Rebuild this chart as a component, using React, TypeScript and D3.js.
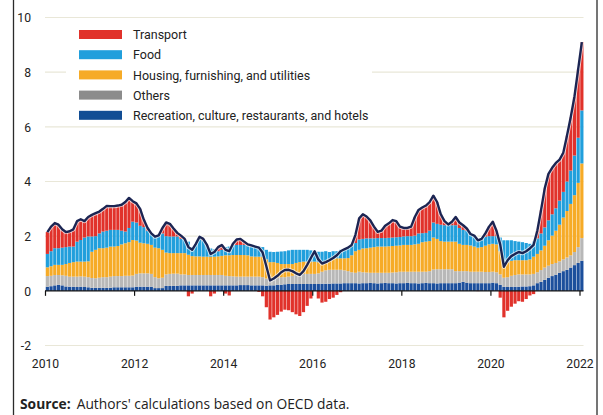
import React from "react";
import * as d3 from "d3";

// ---- data (monthly, Jan 2010 – Jan 2022), percentage-point contributions ----
const startYear = 2010;
const xTickYears = [2010, 2012, 2014, 2016, 2018, 2020, 2022];
const yTicks = [-2, 0, 2, 4, 6, 8, 10];
const yGrid = [-2, 2, 4, 6, 8, 10];

const seriesLabels = [
  "Transport",
  "Food",
  "Housing, furnishing, and utilities",
  "Others",
  "Recreation, culture, restaurants, and hotels",
];

const recreation = [
  0.15, 0.17, 0.2, 0.22, 0.2, 0.16, 0.15, 0.15, 0.14, 0.15, 0.14, 0.13,
  0.11, 0.11, 0.11, 0.11, 0.11, 0.11, 0.13, 0.13, 0.13, 0.13, 0.13, 0.13,
  0.15, 0.15, 0.15, 0.15, 0.15, 0.1, 0.1, 0.1, 0.18, 0.18, 0.18, 0.18,
  0.2, 0.2, 0.2, 0.2, 0.2, 0.2, 0.2, 0.2, 0.2, 0.2, 0.2, 0.2,
  0.2, 0.2, 0.2, 0.2, 0.21, 0.21, 0.21, 0.2, 0.2, 0.2, 0.2, 0.18,
  0.2, 0.2, 0.22, 0.22, 0.24, 0.25, 0.25, 0.25, 0.25, 0.25, 0.25, 0.25,
  0.25, 0.25, 0.26, 0.26, 0.26, 0.27, 0.27, 0.27, 0.28, 0.28, 0.28, 0.28,
  0.27, 0.28, 0.28, 0.29, 0.28, 0.27, 0.28, 0.29, 0.28, 0.28, 0.27, 0.28,
  0.28, 0.29, 0.28, 0.28, 0.27, 0.28, 0.29, 0.28, 0.28, 0.27, 0.28, 0.28,
  0.28, 0.28, 0.28, 0.3, 0.33, 0.3, 0.28, 0.28, 0.28, 0.28, 0.28, 0.28,
  0.3, 0.28, 0.22, 0.15, 0.14, 0.14, 0.15, 0.15, 0.16, 0.16, 0.17, 0.2,
  0.28, 0.33, 0.4, 0.48, 0.54, 0.59, 0.66, 0.72, 0.77, 0.85, 0.94, 1.02,
  1.1,
];

const others = [
  0.39, 0.38, 0.38, 0.36, 0.37, 0.39, 0.37, 0.37, 0.38, 0.38, 0.38, 0.37,
  0.36, 0.35, 0.37, 0.39, 0.39, 0.41, 0.41, 0.41, 0.41, 0.42, 0.42, 0.43,
  0.47, 0.49, 0.49, 0.49, 0.47, 0.4, 0.36, 0.38, 0.42, 0.44, 0.45, 0.45,
  0.4, 0.4, 0.38, 0.38, 0.38, 0.38, 0.38, 0.38, 0.38, 0.38, 0.38, 0.38,
  0.35, 0.34, 0.33, 0.32, 0.31, 0.31, 0.31, 0.32, 0.32, 0.32, 0.3, 0.27,
  0.2, 0.25, 0.26, 0.28, 0.26, 0.27, 0.3, 0.33, 0.35, 0.37, 0.37, 0.37,
  0.37, 0.39, 0.44, 0.49, 0.51, 0.5, 0.5, 0.5, 0.47, 0.44, 0.4, 0.38,
  0.43, 0.4, 0.39, 0.37, 0.38, 0.39, 0.38, 0.37, 0.38, 0.39, 0.41, 0.42,
  0.42, 0.41, 0.42, 0.42, 0.43, 0.42, 0.41, 0.44, 0.5, 0.52, 0.51, 0.51,
  0.51, 0.51, 0.44, 0.42, 0.39, 0.42, 0.42, 0.42, 0.42, 0.42, 0.41, 0.41,
  0.4, 0.4, 0.38, 0.33, 0.36, 0.41, 0.43, 0.45, 0.44, 0.44, 0.43, 0.42,
  0.4, 0.43, 0.45, 0.44, 0.44, 0.43, 0.42, 0.43, 0.45, 0.45, 0.48, 0.58,
  0.83,
];

const housing = [
  0.32, 0.35, 0.37, 0.37, 0.38, 0.43, 0.5, 0.53, 0.55, 0.54, 0.55, 0.58,
  0.96, 1.04, 1.08, 1.06, 1.08, 1.1, 1.08, 1.1, 1.16, 1.19, 1.23, 1.3,
  1.22, 1.12, 1.1, 1.08, 1.06, 1.08, 1.1, 1.02, 0.8, 0.76, 0.75, 0.75,
  0.78, 0.78, 0.74, 0.69, 0.68, 0.68, 0.67, 0.67, 0.67, 0.67, 0.68, 0.7,
  0.75, 0.76, 0.78, 0.79, 0.79, 0.79, 0.78, 0.74, 0.73, 0.73, 0.75, 0.7,
  0.65, 0.6, 0.54, 0.48, 0.48, 0.46, 0.43, 0.44, 0.45, 0.45, 0.45, 0.45,
  0.45, 0.41, 0.31, 0.27, 0.35, 0.4, 0.42, 0.42, 0.44, 0.48, 0.62, 0.79,
  0.8, 0.87, 0.89, 0.92, 0.94, 0.96, 0.96, 0.96, 0.97, 0.97, 0.97, 0.96,
  0.98, 0.98, 0.98, 1.0, 1.02, 1.08, 1.1, 1.1, 1.17, 1.11, 1.03, 1.01,
  1.01, 1.01, 1.08, 1.0, 0.96, 0.96, 0.96, 0.92, 0.88, 0.9, 0.96, 1.01,
  1.02, 1.02, 0.85, 0.47, 0.55, 0.55, 0.54, 0.52, 0.52, 0.52, 0.55, 0.63,
  0.67, 0.72, 0.8, 0.93, 1.04, 1.18, 1.34, 1.53, 1.7, 1.88, 2.08, 2.35,
  2.73,
];

const food = [
  0.49, 0.55, 0.61, 0.61, 0.63, 0.62, 0.6, 0.57, 0.73, 0.79, 0.88, 0.91,
  0.56, 0.5, 0.54, 0.61, 0.62, 0.61, 0.61, 0.59, 0.5, 0.43, 0.52, 0.67,
  0.66, 0.62, 0.59, 0.48, 0.42, 0.39, 0.44, 0.6, 0.6, 0.61, 0.61, 0.61,
  0.52, 0.48, 0.48, 0.33, 0.46, 0.69, 0.6, 0.4, 0.3, 0.27, 0.19, 0.22,
  0.3, 0.32, 0.37, 0.37, 0.37, 0.37, 0.36, 0.36, 0.37, 0.37, 0.35, 0.35,
  0.38, 0.37, 0.41, 0.46, 0.47, 0.5, 0.52, 0.48, 0.45, 0.43, 0.43, 0.41,
  0.38, 0.38, 0.42, 0.43, 0.3, 0.28, 0.26, 0.31, 0.33, 0.38, 0.36, 0.3,
  0.38, 0.35, 0.36, 0.34, 0.32, 0.31, 0.31, 0.31, 0.31, 0.31, 0.31, 0.31,
  0.31, 0.32, 0.32, 0.32, 0.38, 0.33, 0.32, 0.38, 0.55, 0.55, 0.6, 0.6,
  0.6, 0.6, 0.6, 0.58, 0.55, 0.52, 0.42, 0.38, 0.28, 0.28, 0.33, 0.3,
  0.28, 0.3, 0.5, 0.9, 0.8, 0.75, 0.7, 0.68, 0.66, 0.63, 0.57, 0.55,
  0.57, 0.62, 0.67, 0.73, 0.78, 0.82, 0.88, 0.94, 1.08, 1.22, 1.45, 1.65,
  1.94,
];

const transport = [
  0.8, 0.9, 0.92, 0.86, 0.67, 0.55, 0.56, 0.63, 0.75, 0.76, 0.6, 0.71,
  0.79, 0.84, 0.8, 0.83, 0.91, 0.87, 0.87, 0.89, 0.95, 1.08, 1.1, 0.75,
  0.7, 0.62, 0.27, 0.1, 0.0, 0.01, 0.03, 0.2, 0.5, 0.46, 0.29, 0.13,
  0.12, 0.04, -0.2, -0.1, 0.0, 0.03, 0.05, 0.03, -0.2, -0.1, 0.15, 0.18,
  -0.1, -0.17, 0.04, 0.2, 0.22, 0.12, 0.04, 0.04, 0.0, -0.04, -0.2, -0.6,
  -1.05, -0.97, -0.88, -0.76, -0.69, -0.71, -0.78, -0.86, -0.92, -0.78, -0.55, -0.28,
  0.0, -0.28, -0.43, -0.4, -0.3, -0.25, -0.15, -0.05, 0.0, 0.0, 0.02, 0.3,
  0.77, 0.9, 0.8, 0.66, 0.43, 0.23, 0.27, 0.45, 0.53, 0.64, 0.59, 0.38,
  0.31, 0.3, 0.35, 0.68, 0.86, 0.94, 1.0, 1.05, 0.98, 0.8, 0.38, 0.15,
  0.03, 0.13, 0.3, 0.2, 0.17, 0.08, 0.0, 0.02, -0.01, 0.02, 0.12, 0.35,
  0.53, 0.2, -0.25, -0.97, -0.73, -0.58, -0.47, -0.38, -0.4, -0.3, -0.17, -0.12,
  0.28, 0.85, 1.43, 1.7, 1.7, 1.66, 1.5, 1.43, 1.68, 1.95, 2.15, 2.5,
  2.5,
];

const total = [
  2.15, 2.35, 2.48, 2.42, 2.25, 2.15, 2.18, 2.25, 2.55, 2.62, 2.55, 2.7,
  2.78, 2.84, 2.9, 3.0, 3.11, 3.1, 3.1, 3.12, 3.15, 3.25, 3.4, 3.28,
  3.2, 3.0, 2.6, 2.3, 2.1, 1.98, 2.03, 2.3, 2.5, 2.45, 2.28, 2.12,
  2.02, 1.9, 1.6, 1.5, 1.72, 1.98, 1.9, 1.68, 1.35, 1.42, 1.6, 1.68,
  1.5, 1.45, 1.72, 1.88, 1.9, 1.8, 1.7, 1.66, 1.62, 1.58, 1.4, 0.9,
  0.38, 0.45, 0.55, 0.68, 0.76, 0.77, 0.72, 0.64, 0.58, 0.72, 0.95, 1.2,
  1.45, 1.15, 1.0, 1.05, 1.12, 1.2, 1.3, 1.45, 1.52, 1.58, 1.68, 2.05,
  2.65, 2.8, 2.72, 2.58, 2.35, 2.16, 2.2, 2.38, 2.47, 2.59, 2.55, 2.35,
  2.3, 2.3, 2.35, 2.7, 2.96, 3.05, 3.12, 3.25, 3.48, 3.25, 2.8, 2.55,
  2.43, 2.53, 2.7, 2.5, 2.4, 2.28, 2.08, 2.02, 1.85, 1.9, 2.1, 2.35,
  2.53, 2.2, 1.7, 0.88, 1.12, 1.27, 1.35, 1.42, 1.38, 1.45, 1.55, 1.68,
  2.2, 2.95, 3.75, 4.28, 4.5, 4.68, 4.8, 5.05, 5.68, 6.35, 7.1, 8.1,
  9.1,
];

// ---- styles ----
const keys = ["recreation", "others", "housing", "food", "transport"];
const barColors: Record<string, string> = {
  transport: "#e1322b",
  food: "#219fdc",
  housing: "#f6ab27",
  others: "#b8b8b8",
  recreation: "#1c4f9c",
};
const legendColors = ["#e1322b", "#219fdc", "#f6ab27", "#8c8c8c", "#114d94"];
const FONT = "Roboto, 'Liberation Sans', sans-serif";

export default function App() {
  const W = 603;
  const H = 415;
  const x = d3.scaleLinear().domain([2010, 2022]).range([45.5, 580]);
  const y = d3.scaleLinear().domain([-2, 10]).range([345.5, 17.5]);
  const n = total.length;
  const step = x(startYear + 1 / 12) - x(startYear);

  const rows = d3.range(n).map((i) => ({
    i,
    recreation: recreation[i],
    others: others[i],
    housing: housing[i],
    food: food[i],
    transport: transport[i],
  }));
  const stacked = d3
    .stack<any>()
    .keys(keys)
    .offset(d3.stackOffsetDiverging)(rows);

  const xPos = (i: number) => x(startYear + i / 12);
  const line = d3
    .line<number>()
    .x((_, i) => xPos(i) + step / 2)
    .y((d) => y(d))
    .curve(d3.curveLinear);

  const legendY0 = 34.5;
  const legendDy = 20.2;
  const sx = 0.9;

  return (
    <svg
      width={W}
      height={H}
      style={{ position: "absolute", left: 0, top: 0, background: "#fff" }}
    >
      {/* frame */}
      <line x1={13.5} x2={13.5} y1={0} y2={H} stroke="#2b2b2b" strokeWidth={1.3} />
      <line x1={597} x2={597} y1={0} y2={H} stroke="#2b2b2b" strokeWidth={1.3} />

      {/* gridlines */}
      {yGrid.map((v) => (
        <line
          key={v}
          x1={45}
          x2={583.5}
          y1={y(v)}
          y2={y(v)}
          stroke="#e9e7d8"
          strokeWidth={1.2}
        />
      ))}

      {/* bars */}
      {stacked.map((s) => (
        <g key={s.key} fill={barColors[s.key]}>
          {s.map((d, i) => {
            const y0 = y(d[0]);
            const y1 = y(d[1]);
            const top = Math.min(y0, y1);
            const h = Math.abs(y0 - y1);
            if (h <= 0) return null;
            return (
              <rect
                key={i}
                x={xPos(i) + 0.25}
                y={top}
                width={step - 0.5}
                height={h}
              />
            );
          })}
        </g>
      ))}

      {/* zero axis + ticks */}
      <line x1={45} x2={583.5} y1={y(0)} y2={y(0)} stroke="#111" strokeWidth={1.3} />
      {xTickYears.map((yr) => (
        <line
          key={yr}
          x1={x(yr)}
          x2={x(yr)}
          y1={y(0)}
          y2={y(0) + 5}
          stroke="#111"
          strokeWidth={1.2}
        />
      ))}

      {/* total line */}
      <path
        d={line(total) || ""}
        fill="none"
        stroke="#ffffff"
        strokeOpacity={0.7}
        strokeWidth={4.2}
        strokeLinejoin="round"
      />
      <path
        d={line(total) || ""}
        fill="none"
        stroke="#1b2553"
        strokeWidth={2.4}
        strokeLinejoin="round"
      />

      {/* y tick labels */}
      {yTicks.map((v) => (
        <g key={v} transform={`translate(31,${y(v)}) scale(${sx},1)`}>
          <text
            dy="0.35em"
            textAnchor="end"
            fontFamily={FONT}
            fontSize={13.5}
            fill="#222"
          >
            {v}
          </text>
        </g>
      ))}

      {/* x tick labels */}
      {xTickYears.map((yr) => (
        <g key={yr} transform={`translate(${x(yr)},368) scale(${sx},1)`}>
          <text textAnchor="middle" fontFamily={FONT} fontSize={13.5} fill="#222">
            {yr}
          </text>
        </g>
      ))}

      {/* legend */}
      <rect x={66} y={23} width={306} height={101} fill="#fff" />
      {seriesLabels.map((lab, k) => (
        <g key={lab}>
          <rect
            x={79}
            y={legendY0 + k * legendDy - 4.5}
            width={43}
            height={9}
            fill={legendColors[k]}
          />
          <g transform={`translate(133,${legendY0 + k * legendDy}) scale(0.925,1)`}>
            <text dy="0.35em" fontFamily={FONT} fontSize={13.5} fill="#222">
              {lab}
            </text>
          </g>
        </g>
      ))}

      {/* source */}
      <text
        x={20}
        y={409}
        fontFamily="'Open Sans', 'Noto Sans', sans-serif"
        fontSize={13.8}
        fill="#222"
      >
        <tspan fontWeight="bold">Source:</tspan>
        <tspan dx={6}>Authors' calculations based on OECD data.</tspan>
      </text>
    </svg>
  );
}
